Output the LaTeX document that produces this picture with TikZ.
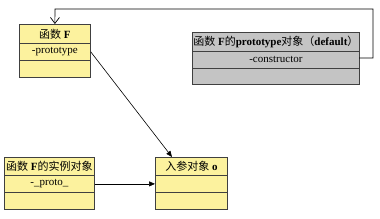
\documentclass[tikz,border=0pt]{standalone}
\usepackage{fontspec}
\setmainfont{Liberation Serif}
\newfontfamily\cjk{Noto Sans CJK SC}
\usetikzlibrary{arrows.meta}
\definecolor{boxyellow}{HTML}{FCF29E}
\definecolor{boxgray}{HTML}{C4C4C4}
\definecolor{edgecol}{HTML}{404040}
\begin{document}
\begin{tikzpicture}[x=1pt,y=-1pt,
  cell/.style={draw=edgecol,line width=0.8pt,anchor=north west,inner sep=0pt,font=\fontsize{11}{13}\selectfont},
  conn/.style={line width=0.6pt,black},
  fill arrow/.style={-{Triangle[length=6pt,width=5pt]}},
  open arrow/.style={-{Straight Barb[length=6pt,width=9pt,line width=0.7pt]}}]
\useasboundingbox (0,0) rectangle (380,219);
% Box F
\node[cell,fill=boxyellow,minimum width=71pt,minimum height=19pt] (fT) at (19,24) {{\cjk 函数} \textbf{F}};
\node[cell,fill=boxyellow,minimum width=71pt,minimum height=17pt] (fM) at (19,43) {-prototype};
\node[cell,fill=boxyellow,minimum width=71pt,minimum height=17pt] (fB) at (19,60) {};
% prototype object
\node[cell,fill=boxgray,minimum width=167pt,minimum height=19pt] (pT) at (192,32) {{\cjk 函数} \textbf{F}{\cjk 的}\textbf{prototype}{\cjk 对象（}\textbf{default}{\cjk ）}};
\node[cell,fill=boxgray,minimum width=167pt,minimum height=17pt] (pM) at (192,51) {-constructor};
\node[cell,fill=boxgray,minimum width=167pt,minimum height=16pt] (pB) at (192,68) {};
% instance
\node[cell,fill=boxyellow,minimum width=90pt,minimum height=18pt] (iT) at (4,157) {{\cjk 函数} \textbf{F}{\cjk 的实例对象}};
\node[cell,fill=boxyellow,minimum width=90pt,minimum height=17pt] (iM) at (4,175) {-\_proto\_};
\node[cell,fill=boxyellow,minimum width=90pt,minimum height=17pt] (iB) at (4,192) {};
% o
\node[cell,fill=boxyellow,minimum width=72pt,minimum height=18pt] (oT) at (155,157) {{\cjk 入参对象} \textbf{o}};
\node[cell,fill=boxyellow,minimum width=72pt,minimum height=17pt] (oM) at (155,175) {};
\node[cell,fill=boxyellow,minimum width=72pt,minimum height=17pt] (oB) at (155,192) {};
% connectors
\coordinate (c0) at (359,58);
\coordinate (c1) at (373,58);
\coordinate (c2) at (373,9);
\coordinate (c3) at (55,9);
\coordinate (oin) at (172,157);
\draw[conn,open arrow] (c0) -- (c1) -- (c2) -- (c3) -- (fT.north);
\draw[conn,fill arrow] (fM.east) -- (oin);
\draw[conn,fill arrow] (iM.east) -- (oM.west);
\end{tikzpicture}
\end{document}
